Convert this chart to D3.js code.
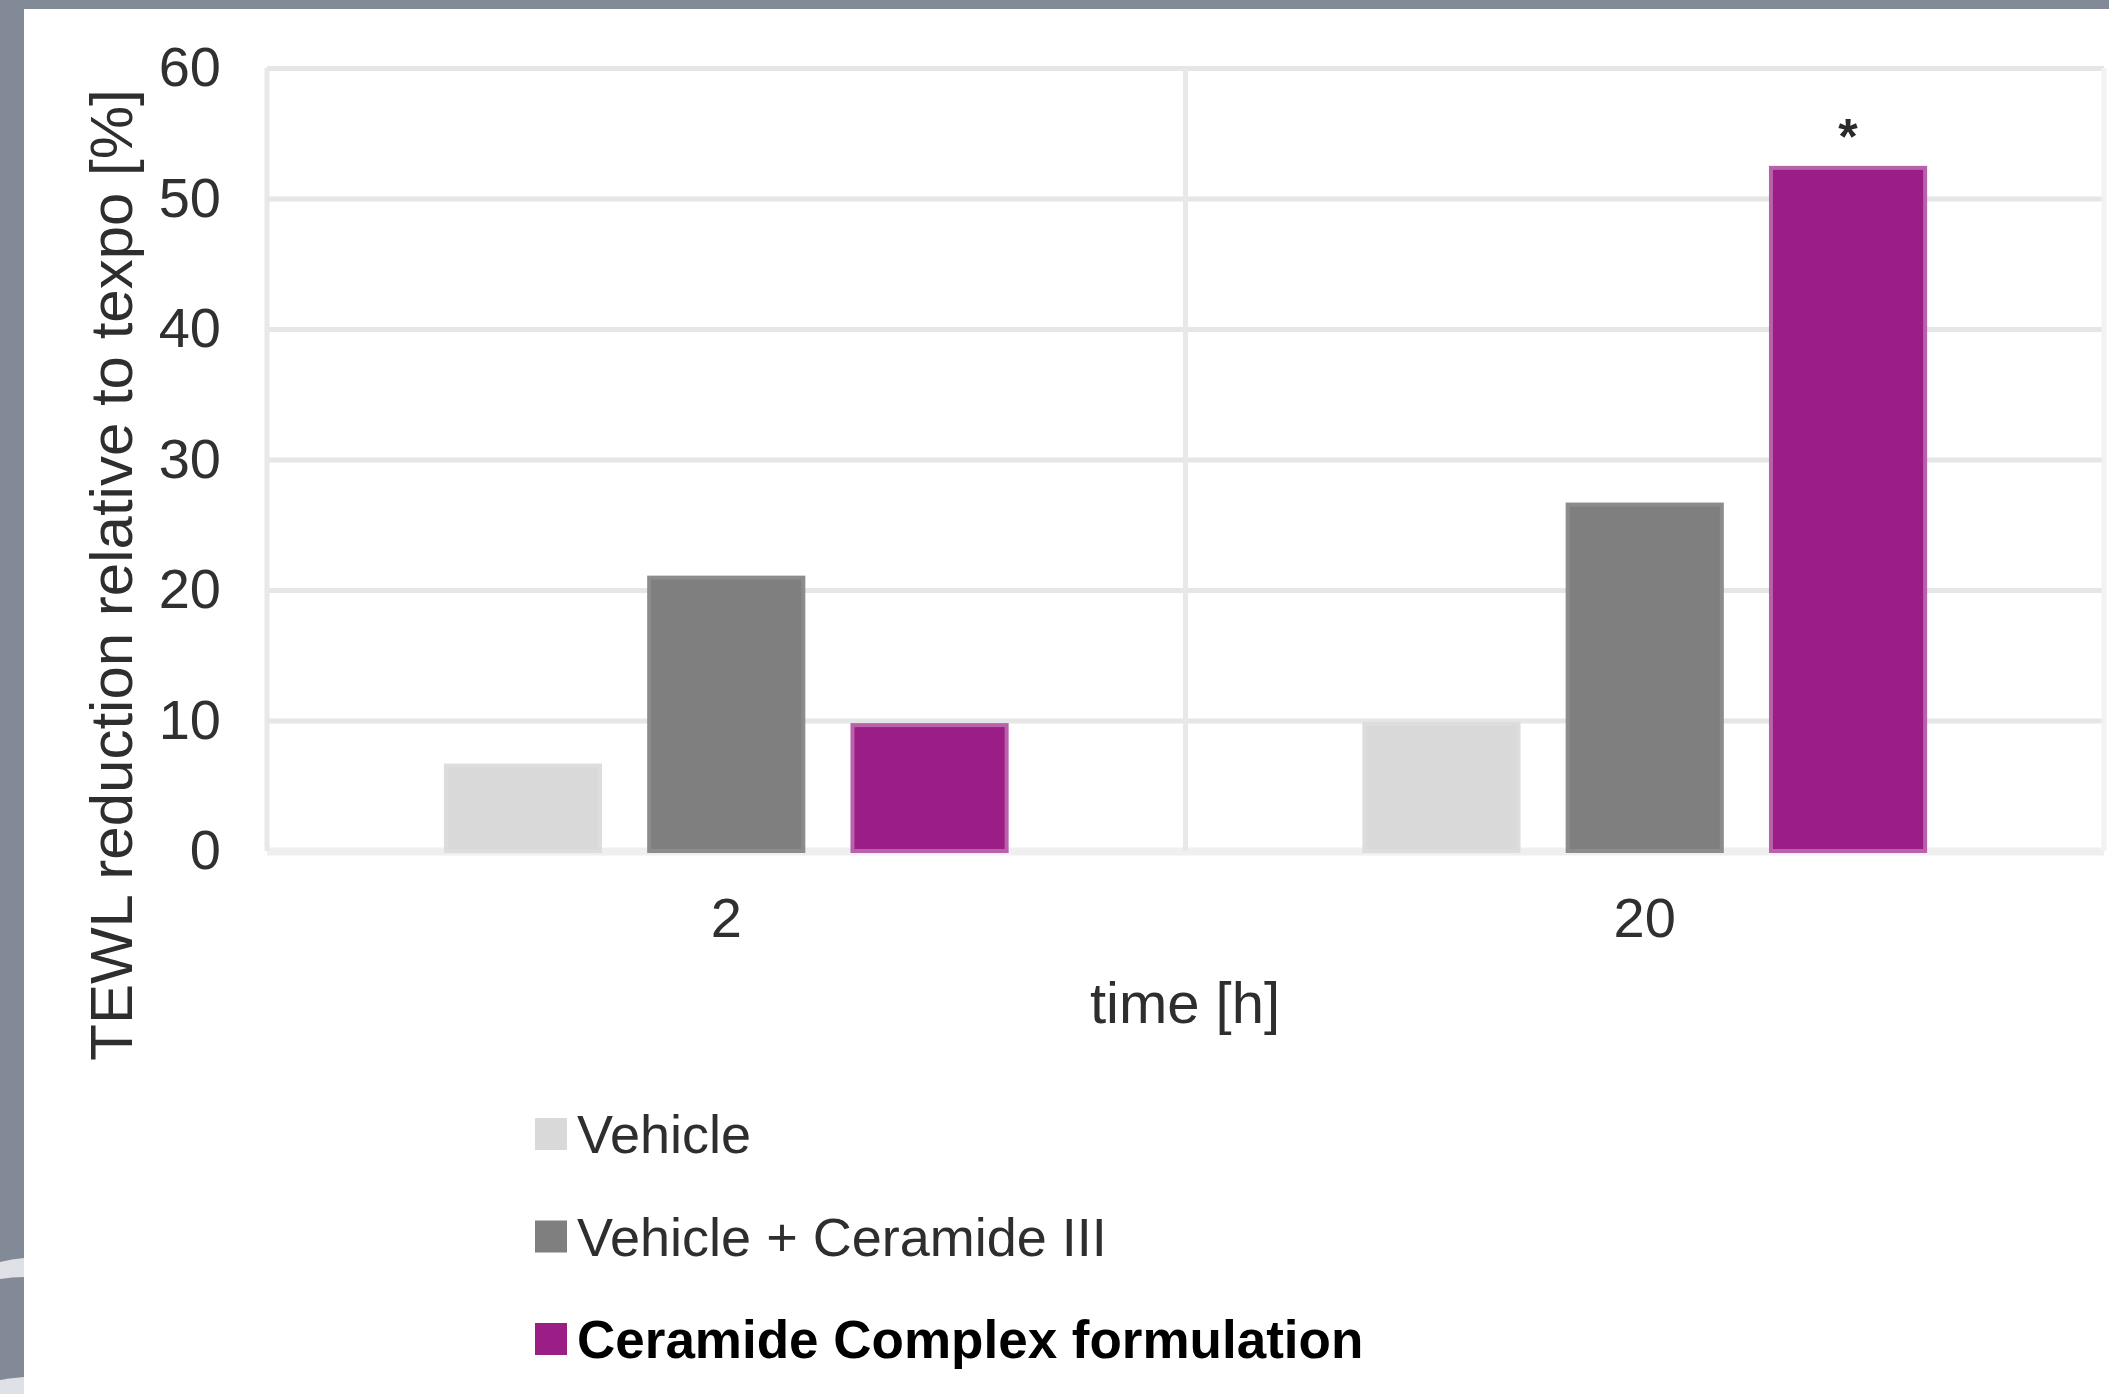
<!DOCTYPE html>
<html>
<head>
<meta charset="utf-8">
<script src="https://cdn.jsdelivr.net/npm/d3@7"></script>
<style>
  html, body { margin: 0; padding: 0; background: #838a97; }
  svg { display: block; }
  text { font-family: "Liberation Sans", Arial, sans-serif; }
</style>
</head>
<body>
<svg id="chart" width="2109" height="1394"></svg>
<script>
// data
const times = ['2', '20'];
const seriesNames = ['Vehicle', 'Vehicle + Ceramide III', 'Ceramide Complex formulation'];
const seriesColors = ['#d9d9d9', '#7f7f7f', '#9b1d86'];
const vehicle = [6.7, 9.9];
const vehicleCeramide = [21.1, 26.7];
const ceramideComplex = [9.8, 52.5];
const significance = ['', '*'];
const yTicks = [0, 10, 20, 30, 40, 50, 60];

const values = [vehicle, vehicleCeramide, ceramideComplex];

const W = 2109, H = 1394;
const plot = { left: 267, right: 2104, top: 68, bottom: 851 };

const svg = d3.select('#chart');

// white panel with the slate frame around it
svg.append('rect').attr('width', W).attr('height', H).attr('fill', '#838a97');
svg.append('rect').attr('x', 24).attr('y', 9).attr('width', W - 24).attr('height', H - 9).attr('fill', '#fff');

// faint arcs of the slide decoration in the left strip
const deco = svg.append('g').attr('fill', '#dfe1e6');
deco.append('path').attr('d', 'M0,1262 Q12,1259 24,1258 L24,1277 Q12,1277 0,1279 Z');
deco.append('path').attr('d', 'M0,1380 Q12,1378 24,1377 L24,1394 L0,1394 Z');

const x = d3.scaleBand().domain(times).range([plot.left, plot.right]).padding(0);
const xInner = d3.scaleBand().domain(d3.range(seriesNames.length))
  .range([0, x.bandwidth()]).paddingInner(0.222).paddingOuter(0.87);
const y = d3.scaleLinear().domain([0, 60]).range([plot.bottom, plot.top]);

// horizontal gridlines from the y axis
const yAxis = svg.append('g')
  .attr('transform', `translate(${plot.left},0)`)
  .call(d3.axisLeft(y).tickValues(yTicks).tickSize(-(plot.right - plot.left)).tickPadding(46));
yAxis.select('.domain').remove();
yAxis.selectAll('.tick line')
  .attr('stroke', (d) => d === 0 ? '#efefef' : '#e6e6e6')
  .attr('stroke-width', (d) => d === 0 ? 8 : 5);
yAxis.selectAll('.tick text')
  .attr('font-size', 56)
  .attr('fill', '#303030')
  .attr('font-family', '"Liberation Sans", Arial, sans-serif');

// vertical separators between the time groups
const seps = times.map((t) => x(t)).concat([plot.right]);
svg.append('g')
  .selectAll('line')
  .data(seps)
  .enter()
  .append('line')
  .attr('x1', (d) => d).attr('x2', (d) => d)
  .attr('y1', plot.top).attr('y2', plot.bottom)
  .attr('stroke', (d, i) => i === seps.length - 1 ? '#f2f2f2' : '#e8e8e8')
  .attr('stroke-width', 5);

// bars
const bars = [];
times.forEach((t, ti) => {
  values.forEach((s, si) => bars.push({ t, si, v: s[ti], mark: si === 2 ? significance[ti] : '' }));
});

const sw = 4;
svg.append('g')
  .selectAll('rect')
  .data(bars)
  .enter()
  .append('rect')
  .attr('x', (d) => x(d.t) + xInner(d.si) + sw / 2)
  .attr('y', (d) => y(d.v) + sw / 2)
  .attr('width', xInner.bandwidth() - sw)
  .attr('height', (d) => y(0) - y(d.v) - sw / 2)
  .attr('fill', (d) => seriesColors[d.si])
  .attr('stroke', (d) => d3.interpolateRgb(seriesColors[d.si], '#fff')(d.si === 2 ? 0.3 : 0.1))
  .attr('stroke-width', sw);

// significance star
svg.append('g')
  .selectAll('text')
  .data(bars.filter((d) => d.mark))
  .enter()
  .append('text')
  .attr('x', (d) => x(d.t) + xInner(d.si) + xInner.bandwidth() / 2)
  .attr('y', (d) => y(d.v) - 12)
  .attr('text-anchor', 'middle')
  .attr('font-size', 50)
  .attr('font-weight', 'bold')
  .attr('fill', '#2a2a2a')
  .text((d) => d.mark);

// x axis labels
const xAxis = svg.append('g')
  .attr('transform', `translate(0,${plot.bottom})`)
  .call(d3.axisBottom(x).tickSize(0).tickPadding(46));
xAxis.select('.domain').remove();
xAxis.selectAll('.tick text')
  .attr('font-size', 56)
  .attr('fill', '#303030')
  .attr('font-family', '"Liberation Sans", Arial, sans-serif');

// axis titles
svg.append('text')
  .attr('x', 1185)
  .attr('y', 1023)
  .attr('text-anchor', 'middle')
  .attr('font-size', 58)
  .attr('fill', '#2e2e2e')
  .text('time [h]');

svg.append('text')
  .attr('transform', 'translate(132,575) rotate(-90)')
  .attr('text-anchor', 'middle')
  .attr('font-size', 60)
  .attr('fill', '#2e2e2e')
  .text('TEWL reduction relative to texpo [%]');

// legend
const legend = svg.append('g')
  .selectAll('g')
  .data(seriesNames)
  .enter()
  .append('g')
  .attr('transform', (d, i) => `translate(535,${1118 + i * 102.5})`);

legend.append('rect')
  .attr('width', 32)
  .attr('height', 32)
  .attr('fill', (d, i) => seriesColors[i]);

legend.append('text')
  .attr('x', 42)
  .attr('y', 35)
  .attr('font-size', (d, i) => i === 2 ? 53 : 54)
  .attr('font-weight', (d, i) => i === 2 ? 'bold' : 'normal')
  .attr('fill', (d, i) => i === 2 ? '#000' : '#2e2e2e')
  .text((d) => d);
</script>
</body>
</html>
